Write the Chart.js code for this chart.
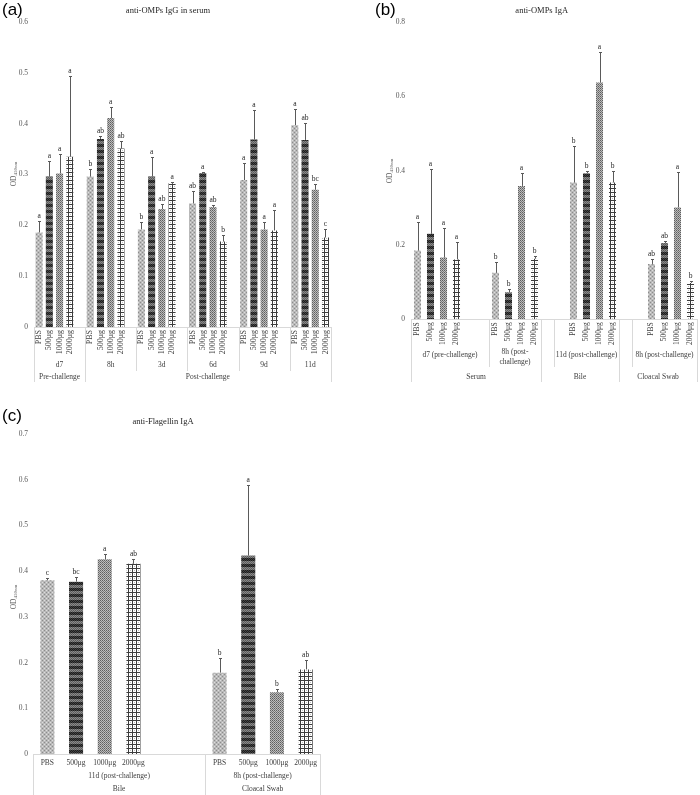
<!DOCTYPE html>
<html>
<head>
<meta charset="utf-8">
<title>anti-OMPs / anti-Flagellin ELISA</title>
<script src="https://cdn.jsdelivr.net/npm/chart.js@4.4.0/dist/chart.umd.min.js"></script>
<style>
  body { margin: 0; background: #fff; }
  #page { position: relative; width: 700px; height: 795px; overflow: hidden; }
  canvas { position: absolute; }
  .tag { position: absolute; font-family: 'Liberation Sans', Arial, sans-serif; font-size: 17px; line-height: 20px; color: #000; }
</style>
</head>
<body>
<div id="page">
  <canvas id="chartA" width="345" height="395" style="left:0;top:0"></canvas>
  <canvas id="chartB" width="350" height="395" style="left:350px;top:0"></canvas>
  <canvas id="chartC" width="345" height="387" style="left:0;top:408px"></canvas>
  <div class="tag" style="left:2px;top:0">(a)</div>
  <div class="tag" style="left:375px;top:0">(b)</div>
  <div class="tag" style="left:2px;top:406px">(c)</div>
</div>
<script>
const doses = ['PBS', '500μg', '1000μg', '2000μg'];

// (a) anti-OMPs IgG in serum
const aPhase = ['Pre-challenge', 'Post-challenge', 'Post-challenge', 'Post-challenge', 'Post-challenge', 'Post-challenge'];
const aTime = ['d7', '8h', '3d', '6d', '9d', '11d'];
const aMean = [
  [0.186, 0.296, 0.302, 0.335],
  [0.296, 0.370, 0.411, 0.351],
  [0.192, 0.296, 0.232, 0.283],
  [0.243, 0.303, 0.236, 0.168],
  [0.289, 0.369, 0.192, 0.190],
  [0.397, 0.368, 0.270, 0.176]
];
const aSd = [
  [0.023, 0.031, 0.039, 0.159],
  [0.014, 0.006, 0.022, 0.014],
  [0.015, 0.039, 0.009, 0.003],
  [0.025, 0.002, 0.004, 0.013],
  [0.033, 0.058, 0.014, 0.040],
  [0.032, 0.033, 0.011, 0.016]
];
const aSig = [
  ['a', 'a', 'a', 'a'],
  ['b', 'ab', 'a', 'ab'],
  ['b', 'a', 'ab', 'a'],
  ['ab', 'a', 'ab', 'b'],
  ['a', 'a', 'a', 'a'],
  ['a', 'ab', 'bc', 'c']
];
const aTicks = ['0', '0.1', '0.2', '0.3', '0.4', '0.5', '0.6'];

// (b) anti-OMPs IgA
const bSite = ['Serum', 'Serum', 'Bile', 'Cloacal Swab'];
const bTime = ['d7 (pre-challenge)', '8h (post-challenge)', '11d (post-challenge)', '8h (post-challenge)'];
const bMean = [
  [0.185, 0.230, 0.166, 0.161],
  [0.125, 0.073, 0.359, 0.163],
  [0.368, 0.393, 0.637, 0.368],
  [0.149, 0.205, 0.301, 0.098]
];
const bSd = [
  [0.078, 0.175, 0.079, 0.047],
  [0.029, 0.008, 0.034, 0.007],
  [0.097, 0.006, 0.081, 0.031],
  [0.014, 0.005, 0.095, 0.004]
];
const bSig = [
  ['a', 'a', 'a', 'a'],
  ['b', 'b', 'a', 'b'],
  ['b', 'b', 'a', 'b'],
  ['ab', 'ab', 'a', 'b']
];
const bTicks = ['0', '0.2', '0.4', '0.6', '0.8'];

// (c) anti-Flagellin IgA
const cSite = ['Bile', 'Cloacal Swab'];
const cTime = ['11d (post-challenge)', '8h (post-challenge)'];
const cMean = [
  [0.380, 0.377, 0.426, 0.416],
  [0.178, 0.434, 0.135, 0.185]
];
const cSd = [
  [0.006, 0.010, 0.011, 0.010],
  [0.033, 0.154, 0.008, 0.020]
];
const cSig = [
  ['c', 'bc', 'a', 'ab'],
  ['b', 'a', 'b', 'ab']
];
const cTicks = ['0', '0.1', '0.2', '0.3', '0.4', '0.5', '0.6', '0.7'];

const SERIF = "'Liberation Serif', 'Times New Roman', serif";
Chart.defaults.font.family = SERIF;
Chart.defaults.color = '#595959';

// grey fill patterns, one per dose
function tile(w, h, paint) {
  const c = document.createElement('canvas');
  c.width = w; c.height = h;
  const g = c.getContext('2d');
  paint(g);
  return g.createPattern(c, 'repeat');
}
function dot(g, x, y, col) { g.fillStyle = col; g.fillRect(x, y, 1, 1); }

const fills = [
  tile(4, 4, g => {
    g.fillStyle = '#b9b9b9'; g.fillRect(0, 0, 4, 4);
    dot(g, 0, 0, '#dedede'); dot(g, 2, 2, '#dedede');
    dot(g, 2, 0, '#8c8c8c'); dot(g, 0, 2, '#8c8c8c');
  }),
  tile(2, 6, g => {
    for (let y = 0; y < 6; y++) for (let x = 0; x < 2; x++) {
      const odd = (x + y) % 2;
      dot(g, x, y, y < 3 ? (odd ? '#1c1c1c' : '#454545') : (odd ? '#5c5c5c' : '#8a8a8a'));
    }
  }),
  tile(4, 4, g => {
    g.fillStyle = '#bcbcbc'; g.fillRect(0, 0, 4, 4);
    for (let y = 0; y < 4; y++) for (let x = 0; x < 4; x++) {
      if ((x + y) % 2 === 0) dot(g, x, y, (x === y || x === (y + 2) % 4) && y % 2 === 0 ? '#5e5e5e' : '#7a7a7a');
    }
  }),
  tile(4, 4, g => {
    g.fillStyle = '#ffffff'; g.fillRect(0, 0, 4, 4);
    g.fillStyle = '#3c3c3c'; g.fillRect(0, 0, 4, 1); g.fillRect(0, 0, 1, 4);
    dot(g, 2, 2, '#bdbdbd');
  })
];

function buildSlots(site, time, mean, sd, sig, gaps) {
  const slot = { label: [], value: [], sd: [], sig: [], dose: [] };
  const subSpans = [], siteSpans = [];
  const blank = () => {
    slot.label.push(''); slot.value.push(null); slot.sd.push(null); slot.sig.push(''); slot.dose.push(-1);
  };
  time.forEach((t, g) => {
    const start = slot.label.length;
    const [lead, tail] = gaps[g];
    for (let i = 0; i < lead; i++) blank();
    mean[g].forEach((m, j) => {
      slot.label.push(doses[j]); slot.value.push(m); slot.sd.push(sd[g][j]);
      slot.sig.push(sig[g][j]); slot.dose.push(j);
    });
    for (let i = 0; i < tail; i++) blank();
    const end = slot.label.length;
    subSpans.push({ text: t, from: start + Math.max(lead - 1, 0), to: end });
    const last = siteSpans[siteSpans.length - 1];
    if (last && last.text === site[g]) last.to = end;
    else siteSpans.push({ text: site[g], from: start, to: end });
  });
  return { slot, subSpans, siteSpans };
}

function wrap(ctx, text, maxW) {
  if (ctx.measureText(text).width <= maxW) return [text];
  let cut = -1;
  for (let k = 0; k < text.length; k++) {
    if ((text[k] === ' ' || text[k] === '-') && ctx.measureText(text.slice(0, k + 1).trim()).width <= maxW) cut = k + 1;
  }
  if (cut < 0) return [text];
  return [text.slice(0, cut).trim(), text.slice(cut).trim()];
}

function makeChart(p) {
  const { slot: s, subSpans, siteSpans } = buildSlots(p.site, p.time, p.mean, p.sd, p.sig, p.gaps);
  const tickVals = p.ticks.map(Number);

  const overlay = {
    id: 'overlay',
    afterDatasetsDraw(chart) {
      const ctx = chart.ctx, y = chart.scales.y;
      const bars = chart.getDatasetMeta(0).data;
      ctx.save();
      bars.forEach((bar, i) => {
        if (s.value[i] == null) return;
        const top = Math.round(y.getPixelForValue(s.value[i] + s.sd[i])) + 0.5;
        const x = Math.round(bar.x) + 0.5;
        ctx.strokeStyle = '#5a5a5a';
        ctx.lineWidth = 1;
        ctx.beginPath();
        ctx.moveTo(x, bar.y); ctx.lineTo(x, top);
        ctx.moveTo(x - 1.5, top); ctx.lineTo(x + 1.5, top);
        ctx.stroke();
        ctx.fillStyle = '#262626';
        ctx.font = '7.5px ' + SERIF;
        ctx.textAlign = 'center';
        ctx.textBaseline = 'alphabetic';
        ctx.fillText(s.sig[i], bar.x, top - 4);
      });
      ctx.restore();
    },
    afterDraw(chart) {
      const ctx = chart.ctx, xs = chart.scales.x, area = chart.chartArea;
      const n = s.label.length;
      const cw = (area.right - area.left) / n;
      const edge = i => xs.getPixelForValue(i) - cw / 2;
      const axisY = area.bottom;
      ctx.save();

      // separators below the axis
      ctx.strokeStyle = '#d9d9d9';
      ctx.lineWidth = 1;
      const outer = new Set();
      siteSpans.forEach(sp => { outer.add(sp.from); outer.add(sp.to); });
      ctx.beginPath();
      outer.forEach(i => {
        const x = Math.round(edge(i)) + 0.5;
        ctx.moveTo(x, axisY); ctx.lineTo(x, p.outerEnd);
      });
      subSpans.forEach(sp => [sp.from, sp.to].forEach(i => {
        if (outer.has(i)) return;
        const x = Math.round(edge(i)) + 0.5;
        ctx.moveTo(x, axisY); ctx.lineTo(x, p.innerEnd);
      }));
      ctx.stroke();

      // dose labels
      ctx.fillStyle = '#404040';
      ctx.font = p.doseFont + 'px ' + SERIF;
      s.label.forEach((lab, i) => {
        if (!lab) return;
        const x = xs.getPixelForValue(i);
        if (p.rotate) {
          ctx.save();
          ctx.translate(x, axisY + 3);
          ctx.rotate(-Math.PI / 2);
          ctx.textAlign = 'right';
          ctx.textBaseline = 'middle';
          ctx.fillText(lab, 0, 0);
          ctx.restore();
        } else {
          ctx.textAlign = 'center';
          ctx.textBaseline = 'middle';
          ctx.fillText(lab, x, p.doseY);
        }
      });

      // time-point and site rows
      ctx.font = '7.5px ' + SERIF;
      ctx.textAlign = 'center';
      ctx.textBaseline = 'middle';
      subSpans.forEach(sp => {
        const l = edge(sp.from), r = edge(sp.to);
        const lines = wrap(ctx, sp.text, r - l);
        lines.forEach((t, k) => ctx.fillText(t, (l + r) / 2, p.subY + (k - (lines.length - 1) / 2) * 10 + (lines.length > 1 ? 2 : 0)));
      });
      siteSpans.forEach(sp => {
        ctx.fillText(sp.text, (edge(sp.from) + edge(sp.to)) / 2, p.siteY);
      });

      // chart title
      ctx.fillStyle = '#262626';
      ctx.font = '8.5px ' + SERIF;
      ctx.fillText(p.title, p.titleX, p.titleY);

      // y axis title: OD with subscript 450nm
      ctx.save();
      ctx.translate(p.yTitle[0], p.yTitle[1]);
      ctx.rotate(-Math.PI / 2);
      ctx.fillStyle = '#595959';
      ctx.textAlign = 'left';
      const big = '7.5px ' + SERIF, small = '5px ' + SERIF;
      ctx.font = big; const w1 = ctx.measureText('OD').width;
      ctx.font = small; const w2 = ctx.measureText('450nm').width;
      const x0 = -(w1 + w2) / 2;
      ctx.font = big; ctx.fillText('OD', x0, 0);
      ctx.font = small; ctx.fillText('450nm', x0 + w1, 2);
      ctx.restore();

      ctx.restore();
    }
  };

  return new Chart(document.getElementById(p.id), {
    type: 'bar',
    data: {
      labels: s.label,
      datasets: [{
        data: s.value,
        backgroundColor: s.dose.map(d => d < 0 ? 'rgba(0,0,0,0)' : fills[d]),
        borderWidth: 0,
        barPercentage: p.barPct,
        categoryPercentage: 1
      }]
    },
    options: {
      responsive: false,
      animation: false,
      events: [],
      layout: { padding: { left: 0, top: p.top, right: p.right, bottom: 0 } },
      plugins: { legend: { display: false }, tooltip: { enabled: false } },
      scales: {
        x: {
          grid: { display: false, drawTicks: false },
          ticks: { display: false },
          border: { display: true, color: '#d9d9d9' },
          afterFit: sc => { sc.height = p.xHeight; }
        },
        y: {
          min: tickVals[0],
          max: tickVals[tickVals.length - 1],
          grid: { display: false, drawTicks: false },
          border: { display: false },
          afterBuildTicks: sc => { sc.ticks = tickVals.map(v => ({ value: v })); },
          ticks: {
            padding: p.tickPad,
            color: '#595959',
            font: { size: 7.5, family: SERIF },
            callback: (v, i) => p.ticks[i]
          },
          afterFit: sc => { sc.width = p.left; }
        }
      }
    },
    plugins: [overlay]
  });
}

makeChart({
  id: 'chartA', title: 'anti-OMPs IgG in serum', titleX: 168, titleY: 11,
  site: aPhase, time: aTime, mean: aMean, sd: aSd, sig: aSig, ticks: aTicks,
  gaps: [[0, 1], [0, 1], [0, 1], [0, 1], [0, 1], [0, 0]],
  left: 34, right: 14.4, top: 22, xHeight: 68, tickPad: 6,
  yTitle: [14, 174], rotate: true, doseFont: 8,
  subY: 365, siteY: 377, innerEnd: 371, outerEnd: 382, barPct: 0.69
});

makeChart({
  id: 'chartB', title: 'anti-OMPs IgA', titleX: 191.7, titleY: 11,
  site: bSite, time: bTime, mean: bMean, sd: bSd, sig: bSig, ticks: bTicks,
  gaps: [[0, 2], [0, 0], [2, 0], [2, 0]],
  left: 61, right: 3, top: 22, xHeight: 75.7, tickPad: 6,
  yTitle: [40, 171], rotate: true, doseFont: 7.5,
  subY: 355, siteY: 377, innerEnd: 367, outerEnd: 382, barPct: 0.54
});

makeChart({
  id: 'chartC', title: 'anti-Flagellin IgA', titleX: 163, titleY: 14,
  site: cSite, time: cTime, mean: cMean, sd: cSd, sig: cSig, ticks: cTicks,
  gaps: [[0, 2], [0, 0]],
  left: 33, right: 25, top: 26, xHeight: 41, tickPad: 5,
  yTitle: [14, 189], rotate: false, doseFont: 7.5, doseY: 355.5,
  subY: 368, siteY: 381, innerEnd: 387, outerEnd: 387, barPct: 0.49
});
</script>
</body>
</html>
